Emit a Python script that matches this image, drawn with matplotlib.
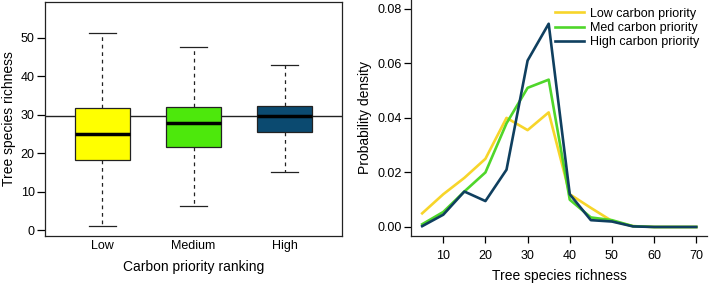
import matplotlib
matplotlib.use('Agg')
import matplotlib.pyplot as plt

plt.rcParams['font.family'] = ['Liberation Sans', 'DejaVu Sans']

# box plot summary
groups = ['Low', 'Medium', 'High']
whislo = [1.0, 6.2, 15.2]
q1 = [18.2, 21.7, 25.5]
med = [25.0, 27.8, 29.7]
q3 = [31.7, 32.0, 32.3]
whishi = [51.3, 47.5, 42.8]
box_colors = ['#ffff00', '#4de80c', '#0b4a70']
ref_line = 29.6

# density curves
richness = [5, 10, 15, 20, 25, 30, 35, 40, 45, 50, 55, 60, 65, 70]
dens_low = [0.005, 0.012, 0.018, 0.025, 0.040, 0.0355, 0.042, 0.012, 0.007, 0.0022, 0.0003, 0.0, 0.0, 0.0]
dens_med = [0.001, 0.0055, 0.013, 0.020, 0.038, 0.051, 0.054, 0.010, 0.0035, 0.0025, 0.0003, 0.0, 0.0, 0.0]
dens_high = [0.0003, 0.0045, 0.013, 0.0095, 0.021, 0.061, 0.0745, 0.012, 0.0025, 0.002, 0.0002, 0.0, 0.0, 0.0]
line_labels = ['Low carbon priority', 'Med carbon priority', 'High carbon priority']
line_colors = ['#f7d52a', '#4fd62a', '#0f3f5f']

fig = plt.figure(figsize=(7.09, 2.85), dpi=100)

# ---- left: box plot
ax1 = fig.add_axes([0.0635, 0.172, 0.419, 0.821])
stats = []
for i in range(3):
    stats.append({'whislo': whislo[i], 'q1': q1[i], 'med': med[i],
                  'q3': q3[i], 'whishi': whishi[i], 'fliers': []})
bp = ax1.bxp(stats, positions=[1, 2, 3], widths=0.6, patch_artist=True,
             showfliers=False,
             boxprops=dict(linewidth=0.9, edgecolor='#222222'),
             medianprops=dict(color='black', linewidth=2.5),
             whiskerprops=dict(linestyle=(0, (3, 3)), linewidth=0.9, color='#222222'),
             capprops=dict(linewidth=0.9, color='#222222'), capwidths=0.3)
for patch, c in zip(bp['boxes'], box_colors):
    patch.set_facecolor(c)
ax1.axhline(ref_line, color='#222222', linewidth=1.0, zorder=1)
ax1.set_xlim(0.37, 3.63)
ax1.set_ylim(-1.5, 59.3)
ax1.set_xticks([1, 2, 3])
ax1.set_xticklabels(groups)
ax1.set_yticks([0, 10, 20, 30, 40, 50])
ax1.tick_params(axis='x', length=0, labelsize=9, pad=3)
ax1.tick_params(axis='y', labelsize=9, length=5.5, width=0.9, pad=2)
ax1.set_xlabel('Carbon priority ranking', fontsize=10, labelpad=6)
ax1.set_ylabel('Tree species richness', fontsize=10, labelpad=3)
for s in ax1.spines.values():
    s.set_linewidth(0.9)
    s.set_color('#222222')

# ---- right: density lines
ax2 = fig.add_axes([0.580, 0.172, 0.4175, 0.828])
for y, c, lab in zip([dens_low, dens_med, dens_high], line_colors, line_labels):
    ax2.plot(richness, y, color=c, linewidth=1.9, label=lab)
ax2.set_xlim(2.4, 72.6)
ax2.set_ylim(-0.0033, 0.0832)
ax2.set_xticks([10, 20, 30, 40, 50, 60, 70])
ax2.set_yticks([0.0, 0.02, 0.04, 0.06, 0.08])
ax2.set_yticklabels(['0.00', '0.02', '0.04', '0.06', '0.08'])
ax2.tick_params(axis='x', labelsize=9, length=5, width=0.9, pad=5)
ax2.tick_params(axis='y', labelsize=9, length=5, width=0.9, pad=2)
ax2.set_xlabel('Tree species richness', fontsize=10, labelpad=5)
ax2.set_ylabel('Probability density', fontsize=10, labelpad=4)
ax2.spines['top'].set_visible(False)
ax2.spines['right'].set_visible(False)
for s in ['left', 'bottom']:
    ax2.spines[s].set_linewidth(0.9)
    ax2.spines[s].set_color('#222222')
ax2.legend(loc='upper right', frameon=False, fontsize=9, handlelength=2.3,
           handletextpad=0.5, labelspacing=0.2, borderaxespad=0.2,
           bbox_to_anchor=(1.0, 1.0))

fig.savefig('out.png', dpi=100)
